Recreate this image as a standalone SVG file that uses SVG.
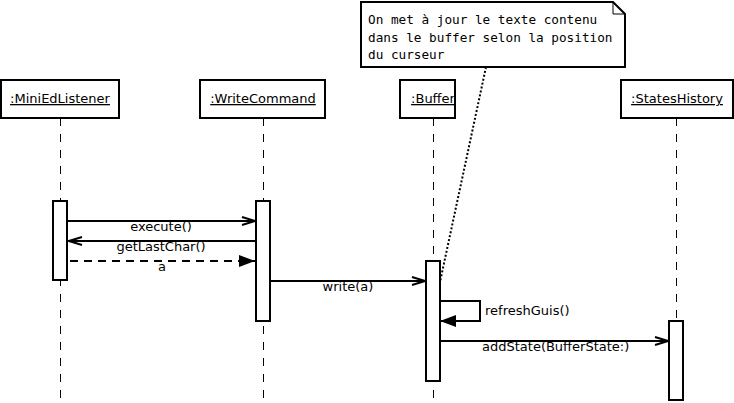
<svg xmlns="http://www.w3.org/2000/svg" width="734" height="403" viewBox="0 0 734 403">
<defs>
<style>
.box{fill:#fff;stroke:#000;stroke-width:2}
.act{fill:#fff;stroke:#000;stroke-width:2}
.life{stroke:#000;stroke-width:1;stroke-dasharray:8,8;fill:none}
.msg{stroke:#000;stroke-width:2;fill:none}
.lbl{font-family:"DejaVu Sans",sans-serif;font-size:13px;fill:#000}
.name{font-family:"DejaVu Sans",sans-serif;font-size:13px;fill:#000;text-decoration:underline;text-anchor:middle}
.note{font-family:"DejaVu Sans Mono",monospace;font-size:12.7px;fill:#000}
</style>
<marker id="open" markerWidth="16" markerHeight="12" refX="14" refY="6" orient="auto" markerUnits="userSpaceOnUse">
<path d="M1,2 L14,6 L1,10" fill="none" stroke="#000" stroke-width="2"/>
</marker>
<marker id="filled" markerWidth="18" markerHeight="14" refX="17" refY="7" orient="auto" markerUnits="userSpaceOnUse">
<path d="M1,1 L17,7 L1,13 Z" fill="#000" stroke="none"/>
</marker>
</defs>
<rect width="734" height="403" fill="#fff"/>

<g id="lifelines">
<line class="life" x1="60.5" y1="118" x2="60.5" y2="403"/>
<line class="life" x1="263.5" y1="118" x2="263.5" y2="403"/>
<line class="life" x1="433.5" y1="118" x2="433.5" y2="403"/>
<line class="life" x1="676.5" y1="118" x2="676.5" y2="403"/>
</g>

<g id="MiniEdListener">
<rect class="box" x="1" y="80" width="118" height="38"/>
<text class="name" x="60" y="103">:MiniEdListener</text>
<rect class="act" x="53" y="201" width="14" height="79"/>
</g>
<g id="WriteCommand">
<rect class="box" x="200" y="80" width="125" height="38"/>
<text class="name" x="263" y="103">:WriteCommand</text>
<rect class="act" x="256" y="201" width="14" height="120"/>
</g>
<g id="Buffer">
<rect class="box" x="400" y="80" width="55" height="38"/>
<text class="name" x="433" y="103">:Buffer</text>
<rect class="act" x="426" y="261" width="14" height="120"/>
</g>
<g id="StatesHistory">
<rect class="box" x="621" y="80" width="112" height="38"/>
<text class="name" x="677" y="103">:StatesHistory</text>
<rect class="act" x="669" y="321" width="14" height="79"/>
</g>

<g id="note">
<path d="M361,2 L613,2 L625,14 L625,67 L361,67 Z" fill="#fff" stroke="#000" stroke-width="2"/>
<path d="M613,2 L613,14 L625,14" fill="none" stroke="#000" stroke-width="1"/>
<text class="note" x="368" y="24">On met à jour le texte contenu</text>
<text class="note" x="368" y="42">dans le buffer selon la position</text>
<text class="note" x="368" y="59">du curseur</text>
</g>

<g id="connectors">
<line x1="486" y1="67" x2="440" y2="282" stroke="#000" stroke-width="2" stroke-dasharray="2,2"/>
<line class="msg" x1="67" y1="221" x2="255" y2="221" marker-end="url(#open)"/>
<text class="lbl" x="161" y="231" text-anchor="middle">execute()</text>
<line class="msg" x1="256" y1="241" x2="69" y2="241" marker-end="url(#open)"/>
<text class="lbl" x="161" y="251" text-anchor="middle">getLastChar()</text>
<line class="msg" x1="70" y1="261" x2="255" y2="261" stroke-dasharray="8,6" marker-end="url(#filled)"/>
<text class="lbl" x="162" y="271" text-anchor="middle">a</text>
<line class="msg" x1="270" y1="281" x2="425" y2="281" marker-end="url(#open)"/>
<text class="lbl" x="348" y="291" text-anchor="middle">write(a)</text>
<polyline class="msg" points="440,301 480,301 480,321 440,321" marker-end="url(#filled)"/>
<text class="lbl" x="485" y="315">refreshGuis()</text>
<line class="msg" x1="440" y1="341" x2="668" y2="341" marker-end="url(#open)"/>
<text class="lbl" x="482" y="351">addState(BufferState:)</text>
</g>
</svg>
